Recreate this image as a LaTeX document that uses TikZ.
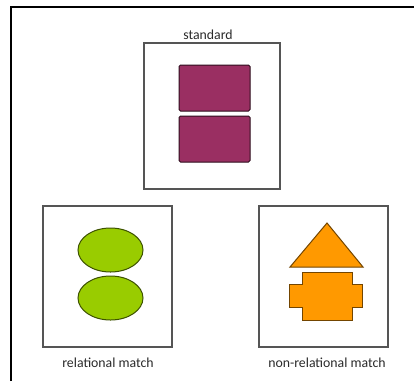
\documentclass[tikz,border=0pt]{standalone}
\usepackage{fontspec}
\setmainfont{Carlito}
\definecolor{plum}{HTML}{9A2F62}
\definecolor{lime}{HTML}{99CC00}
\definecolor{amber}{HTML}{FF9900}
\definecolor{boxgray}{HTML}{555555}
\definecolor{txtgray}{HTML}{2A2A2A}
\begin{document}
\begin{tikzpicture}[x=1pt,y=-1pt,
  panel/.style={draw=boxgray,line width=1.2pt},
  plumshape/.style={draw=black!70!plum,fill=plum,line width=1pt,rounded corners=1.5pt},
  limeshape/.style={draw=black!60!lime,fill=lime,line width=1pt},
  ambershape/.style={draw=black!55!amber,fill=amber,line width=1pt,line join=miter},
  lab/.style={text=txtgray,font=\fontsize{13.8}{16}\selectfont,inner sep=0pt}]
\useasboundingbox (0,0) rectangle (414,381);
\fill[white] (0,0) rectangle (414,381);
% outer frame (top and left visible)
\draw[line width=1.4pt] (11,381) -- (11,7) -- (414,7);
% panels
\node[panel,minimum width=136pt,minimum height=146pt,inner sep=0pt] (std) at (212,116) {};
\node[panel,minimum width=129pt,minimum height=141pt,inner sep=0pt] (rel) at (107.5,276.5) {};
\node[panel,minimum width=129pt,minimum height=141pt,inner sep=0pt] (non) at (323.5,276.5) {};
% labels
\node[lab,anchor=base] (stdlab) at (208,39) {standard};
\node[lab,anchor=base] (rellab) at (108,367) {relational match};
\node[lab,anchor=base] (nonlab) at (327,367) {non-relational match};
% standard shapes
\draw[plumshape] (179,65) rectangle (250,111);
\draw[plumshape] (179,116) rectangle (250,162);
% relational match shapes
\draw[limeshape] (110.5,250) ellipse [x radius=32.5pt,y radius=22pt];
\draw[limeshape] (110.5,298) ellipse [x radius=32.5pt,y radius=22pt];
% non-relational match shapes
\draw[ambershape] (327,223) -- (363,267) -- (290,267) -- cycle;
\draw[ambershape] (302,272) -- (352,272) -- (352,284) -- (362,284) -- (362,307)
  -- (352,307) -- (352,320) -- (302,320) -- (302,307) -- (289,307) -- (289,284)
  -- (302,284) -- cycle;
\end{tikzpicture}
\end{document}
